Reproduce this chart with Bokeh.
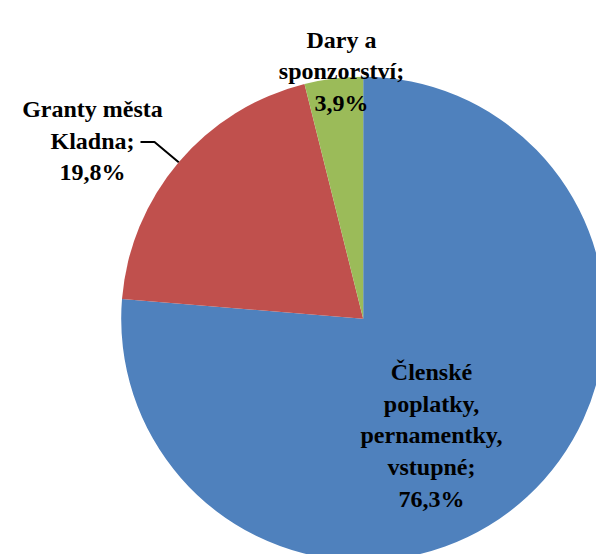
import math
from bokeh.plotting import figure
from bokeh.models import Range1d, ColumnDataSource
from bokeh.core.properties import value
from bokeh.embed import file_html
from bokeh.resources import INLINE

# ---- data ----
categories = ["Členské poplatky, pernamentky, vstupné", "Granty města Kladna", "Dary a sponzorství"]
shares = [76.3, 19.8, 3.9]
colors = ["#4F81BD", "#C0504D", "#9BBB59"]
label_lines = [
    ["Členské", "poplatky,", "pernamentky,", "vstupné;"],
    ["Granty města", "Kladna;"],
    ["Dary a", "sponzorství;"],
]

# ---- layout (pixels; y measured downward from top) ----
W, H = 596, 554
CX, CY, R = 362.7, 318.3, 242
label_pos = [(431, 371.5), (92, 108.5), (341, 39)]   # centre x, first baseline
LINE_STEP = 31.7

def fy(y):
    return H - y

p = figure(width=W, height=H, output_backend="svg", toolbar_location=None,
           x_range=Range1d(0, W), y_range=Range1d(0, H), min_border=0)
p.axis.visible = False
p.grid.visible = False
p.outline_line_color = None

total = sum(shares)
cum = 0.0
starts, ends = [], []
for s in shares:
    a0 = math.pi / 2 - 2 * math.pi * (cum + s) / total
    a1 = math.pi / 2 - 2 * math.pi * cum / total
    starts.append(a0)
    ends.append(a1)
    cum += s

src = ColumnDataSource(dict(x=[CX] * 3, y=[fy(CY)] * 3, start=starts, end=ends, color=colors))
p.wedge(x="x", y="y", radius=R, start_angle="start", end_angle="end", fill_color="color",
        line_color=None, source=src)

# leader line for the red slice
mid = shares[0] / total + shares[1] / total / 2
ex = CX + R * math.sin(2 * math.pi * mid)
ey = CY - R * math.cos(2 * math.pi * mid)
p.line(x=[140, 154, ex], y=[fy(141.5), fy(141.5), fy(ey)], line_color="black", line_width=2)

for lines, s, (lx, ly) in zip(label_lines, shares, label_pos):
    pct = f"{s:.1f}".replace(".", ",") + "%"
    for i, t in enumerate(lines + [pct]):
        p.text(x=[lx], y=[fy(ly + i * LINE_STEP)], text=[t],
               text_font=value("Liberation Serif"), text_font_style="bold",
               text_font_size="24px", text_align="center", text_baseline="alphabetic",
               text_color="black")

open("out.html", "w").write(file_html(p, INLINE))
